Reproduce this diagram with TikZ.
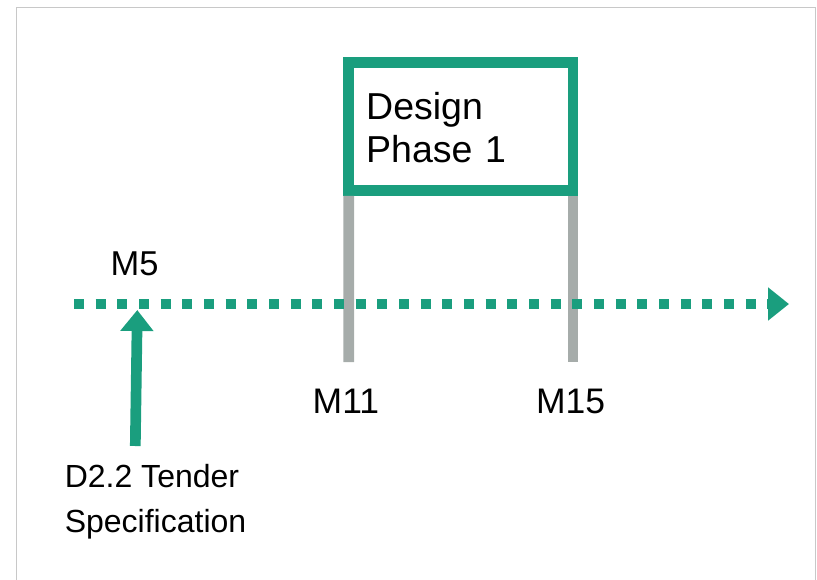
\documentclass[tikz,border=0pt]{standalone}
\usepackage{fontspec}
\setmainfont{Liberation Sans}
\usetikzlibrary{arrows.meta}
\definecolor{teal1}{RGB}{26,158,126}
\definecolor{pole}{RGB}{166,172,170}
\definecolor{framegray}{RGB}{200,200,200}
\begin{document}
\begin{tikzpicture}[x=1pt,y=-1pt,
  phasebox/.style={draw=teal1, line width=10.7pt, fill=white, minimum width=224.3pt,
    minimum height=127.7pt, inner sep=0pt, outer sep=0pt, align=left, text width=189.3pt,
    font=\fontsize{37.5}{43}\selectfont},
  milestone/.style={inner sep=0pt, anchor=base west, font=\fontsize{35.5}{40}\selectfont},
  poleline/.style={draw=pole, line width=10.7pt},
  timeline/.style={draw=teal1, line width=10pt, dash pattern=on 10pt off 11.67pt,
    -{Triangle[length=21pt,width=32pt]}},
  deliv/.style={draw=teal1, line width=10.7pt, -{Triangle[length=21pt,width=32pt]}},
  ]
\useasboundingbox (0,0) rectangle (817,579);
\draw[framegray, line width=1.5pt] (16.5,600) -- (16.5,7.5) -- (815.5,7.5) -- (815.5,600);

\node[phasebox] (design) at (460.85,126.65) {\rule{0pt}{29.7pt}Design\\Phase 1};

\coordinate (p11) at (348.7,362);
\coordinate (p15) at (573,362);
\draw[poleline] ([yshift=-5.35pt]design.south west) -- (p11);
\draw[poleline] ([yshift=-5.35pt]design.south east) -- (p15);

\coordinate (tlstart) at (74,304);
\coordinate (tlend) at (789,304);
\draw[timeline] (tlstart) -- (tlend);

\coordinate (dstart) at (135.3,446);
\coordinate (dend) at (137.3,310);
\draw[deliv] (dstart) -- (dend);

\node[milestone, font=\fontsize{34.5}{40}\selectfont] (m5) at (110.5,275.7) {M5};
\node[milestone] (m11) at (312.5,413.3) {M11};
\node[milestone] (m15) at (535.8,413.3) {M15};
\node[inner sep=0pt, anchor=north west, align=left, font=\fontsize{32}{45}\selectfont]
  (spec) at (64.6,464.2) {D2.2 Tender\\Specification};
\end{tikzpicture}
\end{document}
